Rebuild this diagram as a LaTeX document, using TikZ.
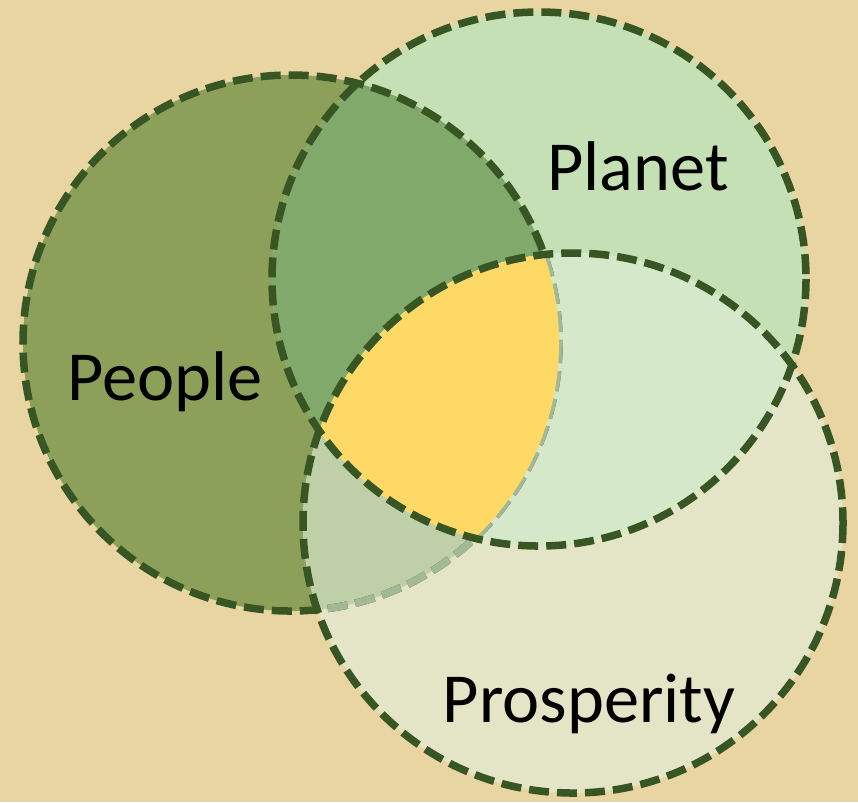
\documentclass[tikz,border=0pt]{standalone}
\usepackage{fontspec}
\setmainfont{Carlito}

\definecolor{paper}{HTML}{E9D5A2}
\definecolor{ringgreen}{HTML}{375623}
\definecolor{fadegreen}{HTML}{A3B996}
\definecolor{peoplefill}{HTML}{8CA05A}
\definecolor{planetfill}{HTML}{C5E0B4}
\definecolor{prospfill}{HTML}{E3E5C6}
\definecolor{peopleplanet}{HTML}{82A96C}
\definecolor{planetprosp}{HTML}{D6E8CA}
\definecolor{peopleprosp}{HTML}{BFD0A8}
\definecolor{lensfill}{HTML}{FFD966}

\begin{document}
\begin{tikzpicture}[
		x=0.01cm, y=-0.01cm,
		ring/.style={draw=ringgreen, line width=0.075cm, dash pattern=on 0.2cm off 0.08cm},
		faded ring/.style={ring, draw=fadegreen},
		word/.style={font=\fontsize{20}{24}\selectfont, text=black, inner sep=0pt, anchor=base}
		]
		
		% ---------------------------------------------------------
		% Paper background
		% ---------------------------------------------------------
		\fill[paper] (0,0) rectangle (858,802);
		\useasboundingbox (0,0) rectangle (858,802);
		
		\coordinate (people) at (291,343);
		\coordinate (planet) at (539,279);
		\coordinate (prosp) at (573,523);
		
		% ---------------------------------------------------------
		% The three sets and their overlaps
		% ---------------------------------------------------------
		\fill[peoplefill] (people) circle (268);
		\fill[planetfill] (planet) circle (267);
		\fill[prospfill] (prosp) circle (270);
		
		\begin{scope}
			\clip (people) circle (268);
			\fill[peopleplanet] (planet) circle (267);
			\fill[peopleprosp] (prosp) circle (270);
		\end{scope}
		\begin{scope}
			\clip (planet) circle (267);
			\fill[planetprosp] (prosp) circle (270);
		\end{scope}
		
		% People outline, faded where Prosperity lies over it
		\draw[ring] (people) circle (268);
		\begin{scope}
			\clip (prosp) circle (270);
			\draw[faded ring] (people) circle (268);
		\end{scope}
		
		% The centre: all three
		\begin{scope}
			\clip (people) circle (268);
			\clip (planet) circle (267);
			\fill[lensfill] (prosp) circle (270);
		\end{scope}
		
		\draw[ring] (planet) circle (267);
		\draw[ring] (prosp) circle (270);
		
		% ---------------------------------------------------------
		% Labels
		% ---------------------------------------------------------
		\node[word] (people-txt) at (165,400) {People};
		\node[word] (planet-txt) at (638,190) {Planet};
		\node[word] (prosp-txt) at (589,722) {Prosperity};
		
	\end{tikzpicture}
\end{document}
